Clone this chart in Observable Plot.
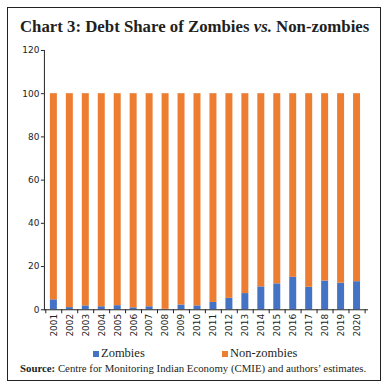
<!DOCTYPE html>
<html>
<head>
<meta charset="utf-8">
<script src="https://cdn.jsdelivr.net/npm/d3@7"></script>
<script src="https://cdn.jsdelivr.net/npm/@observablehq/plot@0.6"></script>
<style>
  html, body { margin: 0; padding: 0; background: #fff; }
  #frame {
    position: absolute; left: 7px; top: 7px; width: 372px; height: 372px;
    border: 1.5px solid #222; box-sizing: content-box;
  }
  #title {
    position: absolute; left: 12px; top: 9px; white-space: nowrap;
    font-family: "Liberation Serif", "DejaVu Serif", serif; font-weight: bold;
    font-size: 16.8px; color: #231f20;
  }
  #chart { position: absolute; left: 1px; top: 33px; }
  #legend {
    position: absolute; top: 338px; left: 0; width: 372px; height: 16px;
    font-family: "Liberation Serif", "DejaVu Serif", serif; font-size: 12.5px; color: #231f20;
  }
  .item { position: absolute; top: 0; white-space: nowrap; }
  .sw { display: inline-block; width: 6px; height: 6px; margin-right: 2px; vertical-align: 0px; }
  #source {
    position: absolute; left: 12px; top: 354px; white-space: nowrap;
    font-family: "Liberation Serif", "DejaVu Serif", serif; font-size: 10.8px; color: #231f20;
  }
</style>
</head>
<body>
<div id="frame">
  <div id="title">Chart 3: Debt Share of Zombies <i>vs.</i> Non-zombies</div>
  <div id="chart"></div>
  <div id="legend"></div>
  <div id="source"><b>Source:</b> Centre for Monitoring Indian Economy (CMIE) and authors’ estimates.</div>
</div>
<script>
const years = ["2001","2002","2003","2004","2005","2006","2007","2008","2009","2010",
               "2011","2012","2013","2014","2015","2016","2017","2018","2019","2020"];
const zombies = [4.6, 1.0, 1.8, 1.4, 1.9, 0.9, 1.4, 0.2, 2.2, 1.8,
                 3.4, 5.3, 7.5, 10.6, 12.0, 15.0, 10.4, 13.3, 12.3, 13.0];
const nonZombies = [95.4, 99.0, 98.2, 98.6, 98.1, 99.1, 98.6, 99.8, 97.8, 98.2,
                    96.6, 94.7, 92.5, 89.4, 88.0, 85.0, 89.6, 86.7, 87.7, 87.0];
const seriesNames = ["Zombies", "Non-zombies"];
const seriesColors = ["#4472C4", "#ED7D31"];
const yTicks = [0, 20, 40, 60, 80, 100, 120];

const rows = [];
years.forEach((y, i) => {
  rows.push({year: y, series: seriesNames[0], value: zombies[i]});
  rows.push({year: y, series: seriesNames[1], value: nonZombies[i]});
});

const W = 372, H = 304, mL = 35, mR = 13, mT = 9, mB = 35;
const step = (W - mL - mR) / years.length;

const chart = Plot.plot({
  width: W, height: H,
  marginLeft: mL, marginRight: mR, marginTop: mT, marginBottom: mB,
  style: {fontFamily: "DejaVu Sans, sans-serif", fontSize: "9px", color: "#222", background: "transparent"},
  x: {domain: years, paddingInner: 0.56, paddingOuter: 0.28, label: null},
  y: {domain: [0, 120], label: null},
  color: {domain: seriesNames, range: seriesColors},
  marks: [
    Plot.barY(rows, {x: "year", y: "value", fill: "series", order: seriesNames}),
    Plot.axisY({ticks: yTicks, tickSize: 3, tickPadding: 2, label: null, fontSize: 9}),
    Plot.axisX({tickSize: 0, tickPadding: 4, tickRotate: -90, label: null, fontSize: 9}),
    Plot.axisX({tickSize: 4, tickFormat: () => "", dx: -step / 2, label: null}),
    Plot.axisX({ticks: [years[years.length - 1]], tickSize: 4, tickFormat: () => "", dx: step / 2, label: null}),
    Plot.frame({anchor: "bottom", stroke: "#222"}),
    Plot.frame({anchor: "left", stroke: "#222"})
  ]
});
document.getElementById("chart").appendChild(chart);

const legend = document.getElementById("legend");
const positions = [85, 214];
seriesNames.forEach((s, i) => {
  const d = document.createElement("div");
  d.className = "item";
  d.style.left = positions[i] + "px";
  d.innerHTML = `<span class="sw" style="background:${seriesColors[i]}"></span>${s}`;
  legend.appendChild(d);
});
</script>
</body>
</html>
